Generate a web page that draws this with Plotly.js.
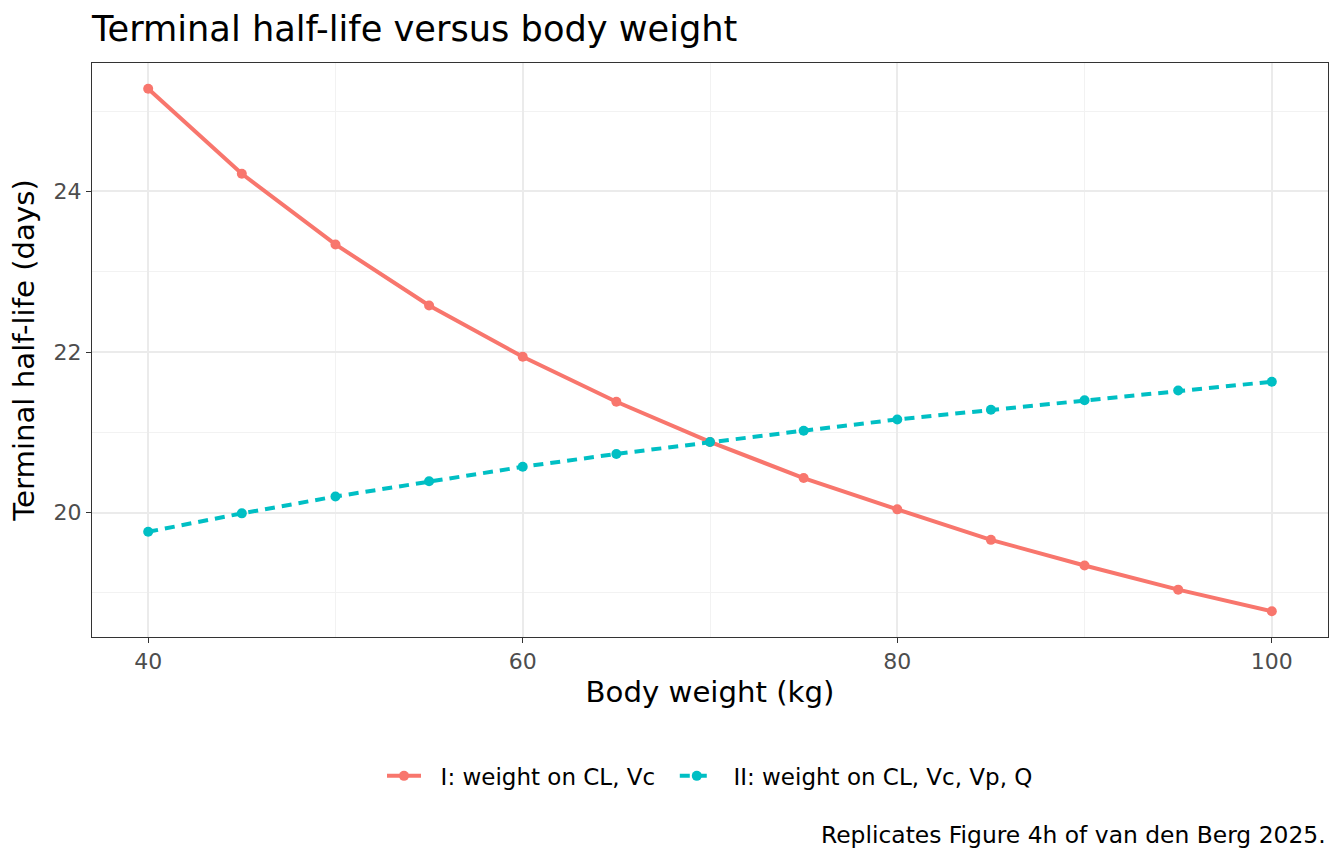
<!DOCTYPE html>
<html>
<head>
<meta charset="utf-8">
<script src="https://cdn.plot.ly/plotly-3.0.1.min.js"></script>
<style>html,body{margin:0;padding:0;background:#fff;}#chart{width:1344px;height:864px;}</style>
</head>
<body>
<div id="chart"></div>
<script>
const weights = [40, 45, 50, 55, 60, 65, 70, 75, 80, 85, 90, 95, 100];
const halfLifeI = [25.28, 24.22, 23.34, 22.58, 21.94, 21.38, 20.88, 20.43, 20.04, 19.66, 19.34, 19.04, 18.77];
const halfLifeII = [19.76, 19.99, 20.20, 20.39, 20.57, 20.73, 20.88, 21.02, 21.16, 21.28, 21.40, 21.52, 21.63];
const seriesNames = ["I: weight on CL, Vc", "II: weight on CL, Vc, Vp, Q"];
const xTicks = [40, 60, 80, 100];
const yTicks = [20, 22, 24];

const font = "DejaVu Sans, sans-serif";
const pad = "\u00a0\u00a0";

const traces = [
  {
    x: weights, y: halfLifeI, name: pad + seriesNames[0] + "\u00a0\u00a0", type: "scatter", mode: "lines+markers",
    line: {color: "#F8766D", width: 4},
    marker: {color: "#F8766D", size: 10}
  },
  {
    x: weights, y: halfLifeII, name: pad + seriesNames[1], type: "scatter", mode: "lines+markers",
    line: {color: "#00BFC4", width: 4, dash: "10px,7px"},
    marker: {color: "#00BFC4", size: 10}
  }
];

const axisCommon = {
  showline: true, linecolor: "#333333", linewidth: 1, mirror: true,
  ticks: "outside", ticklen: 5, tickcolor: "#333333", tickwidth: 1,
  tickfont: {family: font, size: 22, color: "#4D4D4D"},
  showgrid: true, gridcolor: "#EBEBEB", gridwidth: 2,
  zeroline: false
};

const layout = {
  width: 1344, height: 864,
  paper_bgcolor: "#ffffff", plot_bgcolor: "#ffffff",
  margin: {l: 92, r: 16, t: 63, b: 227},
  font: {family: font, color: "#000000"},
  title: {
    text: "Terminal half-life versus body weight",
    font: {family: font, size: 35.2, color: "#000000"},
    xref: "paper", x: 0, xanchor: "left",
    yref: "container", y: 1 - 29/864, yanchor: "middle"
  },
  xaxis: Object.assign({}, axisCommon, {
    range: [37, 103],
    tickvals: xTicks, ticktext: xTicks.map(String),
    minor: {tickvals: [50, 70, 90], showgrid: true, gridcolor: "#F2F2F2", gridwidth: 1, ticks: ""},
    title: {text: "Body weight (kg)", font: {family: font, size: 29.2, color: "#000000"}, standoff: 8}
  }),
  yaxis: Object.assign({}, axisCommon, {
    range: [18.45, 25.6],
    tickvals: yTicks, ticktext: yTicks.map(String),
    minor: {tickvals: [19, 21, 23, 25], showgrid: true, gridcolor: "#F2F2F2", gridwidth: 1, ticks: ""},
    title: {text: "Terminal half-life (days)", font: {family: font, size: 29.2, color: "#000000"}, standoff: 10}
  }),
  showlegend: true,
  legend: {
    orientation: "h", x: 0.5, xanchor: "center", y: -0.242, yanchor: "middle",
    font: {family: font, size: 23, color: "#000000"},
    itemwidth: 34, tracegroupgap: 0, bgcolor: "rgba(0,0,0,0)"
  },
  annotations: [{
    text: "Replicates Figure 4h of van den Berg 2025.",
    xref: "paper", yref: "paper", x: 1, y: -0.345, xanchor: "right", yanchor: "middle",
    showarrow: false, font: {family: font, size: 23.4, color: "#000000"}
  }]
};

Plotly.newPlot("chart", traces, layout, {displayModeBar: false, staticPlot: true});
</script>
</body>
</html>
